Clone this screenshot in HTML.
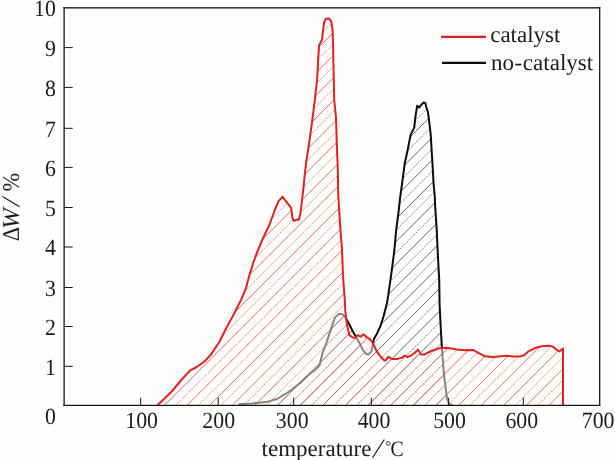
<!DOCTYPE html>
<html><head><meta charset="utf-8"><title>chart</title>
<style>
html,body{margin:0;padding:0;background:#fefefc;}
body{width:615px;height:460px;overflow:hidden;}
svg{display:block;}
text{text-rendering:geometricPrecision;}
.t{opacity:0.999;}
text{font-family:"Liberation Serif",serif;fill:#1c1c1c;}
</style></head><body>
<svg width="615" height="460" viewBox="0 0 615 460">
<defs>
<clipPath id="cb"><polygon points="238.4,404.2 251.8,403.4 266.1,402.1 276.9,399.0 285.8,393.7 293.0,388.7 300.1,382.9 309.1,374.4 316.2,369.0 319.5,365.4 322.5,352.9 326.1,343.9 329.8,332.6 334.7,317.9 338.8,313.9 342.0,313.9 345.3,317.1 348.5,322.8 352.6,331.0 355.6,336.2 359.2,342.4 363.2,350.6 366.5,354.2 368.9,354.2 371.4,351.4 373.0,344.0 373.8,339.2 377.1,333.4 380.4,326.1 383.6,316.3 386.9,303.3 388.3,295.2 391.7,270.9 394.4,250.0 396.1,230.9 398.8,210.0 400.2,197.0 402.2,182.6 404.8,163.0 407.7,149.7 410.7,134.4 414.2,127.9 415.5,116.1 417.2,105.7 419.2,107.6 421.1,105.0 423.7,102.4 425.4,103.1 426.3,107.0 428.0,112.2 429.3,122.6 430.7,134.4 431.6,149.7 432.6,165.7 433.5,182.6 434.8,197.0 435.1,205.0 436.7,229.5 437.8,253.9 439.2,279.6 439.6,304.5 440.8,328.9 441.9,347.8 444.0,374.8 447.0,398.3 448.9,403.6 452.5,405.2"/></clipPath>
<clipPath id="cr"><polygon points="157.3,405.2 164.0,399.0 171.7,391.5 182.6,378.5 190.2,370.4 196.7,367.0 204.3,361.7 210.9,354.6 219.6,341.5 226.0,328.5 232.6,316.5 235.9,310.0 241.3,299.4 245.9,288.3 249.8,273.9 253.1,263.5 256.3,254.4 262.2,240.0 269.6,224.4 274.8,210.0 278.7,200.9 282.6,196.7 284.6,199.6 291.1,207.7 292.4,217.9 293.7,220.7 299.0,219.2 300.3,213.9 301.6,203.5 303.5,187.8 304.2,180.0 306.1,162.6 309.6,140.0 312.2,120.9 314.8,100.0 317.2,78.5 318.2,58.9 319.1,45.2 322.1,39.4 323.1,29.6 324.0,22.7 326.0,18.8 328.9,18.4 331.3,21.7 332.5,29.6 333.1,45.2 333.5,68.7 334.2,100.0 336.0,117.4 336.8,143.5 337.8,170.0 338.3,196.0 339.9,222.2 342.0,249.5 343.0,276.0 344.8,300.0 345.3,311.4 346.9,324.5 349.4,335.1 352.6,337.5 355.1,337.8 357.5,335.1 360.8,336.7 363.7,334.3 366.5,337.2 369.8,339.2 373.0,343.2 376.3,350.6 380.4,356.3 384.4,360.7 386.1,360.0 388.2,356.8 390.1,357.9 392.6,359.1 396.7,359.1 401.6,357.9 404.8,355.5 407.3,357.1 411.4,355.3 414.6,353.0 417.9,349.6 419.8,352.5 421.2,354.6 424.5,354.4 431.3,351.0 439.2,348.2 447.0,347.8 456.8,349.5 464.6,350.2 473.4,350.0 478.3,352.8 484.5,356.2 493.1,357.0 501.2,356.3 506.9,355.7 512.6,356.5 519.2,356.6 524.0,355.2 528.9,351.1 535.5,347.8 542.0,346.2 548.5,345.7 552.6,346.5 556.7,349.8 559.6,351.4 561.6,349.5 563.0,348.5 563.0,405.2"/></clipPath>
</defs>
<rect width="615" height="460" fill="#fefefc"/>
<!-- black series -->
<path clip-path="url(#cb)" d="M-62.58,406.0L243.42,100.0M-39.95,406.0L266.05,100.0M-17.32,406.0L288.68,100.0M5.30,406.0L311.30,100.0M27.93,406.0L333.93,100.0M50.56,406.0L356.56,100.0M73.19,406.0L379.19,100.0M95.82,406.0L401.82,100.0M118.44,406.0L424.44,100.0M141.07,406.0L447.07,100.0M163.70,406.0L469.70,100.0M186.33,406.0L492.33,100.0M208.96,406.0L514.96,100.0M231.58,406.0L537.58,100.0M254.21,406.0L560.21,100.0M276.84,406.0L582.84,100.0M299.47,406.0L605.47,100.0M322.10,406.0L628.10,100.0M344.72,406.0L650.72,100.0M367.35,406.0L673.35,100.0M389.98,406.0L695.98,100.0M412.61,406.0L718.61,100.0M435.24,406.0L741.24,100.0M457.86,406.0L763.86,100.0" fill="none" stroke="#3a3636" stroke-width="0.75"/>
<path clip-path="url(#cb)" d="M-73.89,406.0L232.11,100.0M-51.27,406.0L254.73,100.0M-28.64,406.0L277.36,100.0M-6.01,406.0L299.99,100.0M16.62,406.0L322.62,100.0M39.25,406.0L345.25,100.0M61.87,406.0L367.87,100.0M84.50,406.0L390.50,100.0M107.13,406.0L413.13,100.0M129.76,406.0L435.76,100.0M152.39,406.0L458.39,100.0M175.01,406.0L481.01,100.0M197.64,406.0L503.64,100.0M220.27,406.0L526.27,100.0M242.90,406.0L548.90,100.0M265.53,406.0L571.53,100.0M288.15,406.0L594.15,100.0M310.78,406.0L616.78,100.0M333.41,406.0L639.41,100.0M356.04,406.0L662.04,100.0M378.67,406.0L684.67,100.0M401.29,406.0L707.29,100.0M423.92,406.0L729.92,100.0M446.55,406.0L752.55,100.0" fill="none" stroke="#5a5454" stroke-width="0.7" stroke-dasharray="2.2 1.1"/>
<polyline points="238.4,404.2 251.8,403.4 266.1,402.1 276.9,399.0 285.8,393.7 293.0,388.7 300.1,382.9 309.1,374.4 316.2,369.0 319.5,365.4 322.5,352.9 326.1,343.9 329.8,332.6 334.7,317.9 338.8,313.9 342.0,313.9 345.3,317.1 348.5,322.8 352.6,331.0 355.6,336.2 359.2,342.4 363.2,350.6 366.5,354.2 368.9,354.2 371.4,351.4 373.0,344.0 373.8,339.2 377.1,333.4 380.4,326.1 383.6,316.3 386.9,303.3 388.3,295.2 391.7,270.9 394.4,250.0 396.1,230.9 398.8,210.0 400.2,197.0 402.2,182.6 404.8,163.0 407.7,149.7 410.7,134.4 414.2,127.9 415.5,116.1 417.2,105.7 419.2,107.6 421.1,105.0 423.7,102.4 425.4,103.1 426.3,107.0 428.0,112.2 429.3,122.6 430.7,134.4 431.6,149.7 432.6,165.7 433.5,182.6 434.8,197.0 435.1,205.0 436.7,229.5 437.8,253.9 439.2,279.6 439.6,304.5 440.8,328.9 441.9,347.8 444.0,374.8 447.0,398.3 448.9,403.6 452.5,405.2" fill="none" stroke="#0c0c0c" stroke-width="2" stroke-linejoin="round"/>
<!-- red series -->
<polygon points="157.3,405.2 164.0,399.0 171.7,391.5 182.6,378.5 190.2,370.4 196.7,367.0 204.3,361.7 210.9,354.6 219.6,341.5 226.0,328.5 232.6,316.5 235.9,310.0 241.3,299.4 245.9,288.3 249.8,273.9 253.1,263.5 256.3,254.4 262.2,240.0 269.6,224.4 274.8,210.0 278.7,200.9 282.6,196.7 284.6,199.6 291.1,207.7 292.4,217.9 293.7,220.7 299.0,219.2 300.3,213.9 301.6,203.5 303.5,187.8 304.2,180.0 306.1,162.6 309.6,140.0 312.2,120.9 314.8,100.0 317.2,78.5 318.2,58.9 319.1,45.2 322.1,39.4 323.1,29.6 324.0,22.7 326.0,18.8 328.9,18.4 331.3,21.7 332.5,29.6 333.1,45.2 333.5,68.7 334.2,100.0 336.0,117.4 336.8,143.5 337.8,170.0 338.3,196.0 339.9,222.2 342.0,249.5 343.0,276.0 344.8,300.0 345.3,311.4 346.9,324.5 349.4,335.1 352.6,337.5 355.1,337.8 357.5,335.1 360.8,336.7 363.7,334.3 366.5,337.2 369.8,339.2 373.0,343.2 376.3,350.6 380.4,356.3 384.4,360.7 386.1,360.0 388.2,356.8 390.1,357.9 392.6,359.1 396.7,359.1 401.6,357.9 404.8,355.5 407.3,357.1 411.4,355.3 414.6,353.0 417.9,349.6 419.8,352.5 421.2,354.6 424.5,354.4 431.3,351.0 439.2,348.2 447.0,347.8 456.8,349.5 464.6,350.2 473.4,350.0 478.3,352.8 484.5,356.2 493.1,357.0 501.2,356.3 506.9,355.7 512.6,356.5 519.2,356.6 524.0,355.2 528.9,351.1 535.5,347.8 542.0,346.2 548.5,345.7 552.6,346.5 556.7,349.8 559.6,351.4 561.6,349.5 563.0,348.5 563.0,405.2" fill="#fefefc" fill-opacity="0.5"/>
<path clip-path="url(#cr)" d="M-243.60,406.0L147.40,15.0M-220.98,406.0L170.02,15.0M-198.35,406.0L192.65,15.0M-175.72,406.0L215.28,15.0M-153.09,406.0L237.91,15.0M-130.46,406.0L260.54,15.0M-107.84,406.0L283.16,15.0M-85.21,406.0L305.79,15.0M-62.58,406.0L328.42,15.0M-39.95,406.0L351.05,15.0M-17.32,406.0L373.68,15.0M5.30,406.0L396.30,15.0M27.93,406.0L418.93,15.0M50.56,406.0L441.56,15.0M73.19,406.0L464.19,15.0M95.82,406.0L486.82,15.0M118.44,406.0L509.44,15.0M141.07,406.0L532.07,15.0M163.70,406.0L554.70,15.0M186.33,406.0L577.33,15.0M208.96,406.0L599.96,15.0M231.58,406.0L622.58,15.0M254.21,406.0L645.21,15.0M276.84,406.0L667.84,15.0M299.47,406.0L690.47,15.0M322.10,406.0L713.10,15.0M344.72,406.0L735.72,15.0M367.35,406.0L758.35,15.0M389.98,406.0L780.98,15.0M412.61,406.0L803.61,15.0M435.24,406.0L826.24,15.0M457.86,406.0L848.86,15.0M480.49,406.0L871.49,15.0M503.12,406.0L894.12,15.0M525.75,406.0L916.75,15.0M548.38,406.0L939.38,15.0M571.00,406.0L962.00,15.0" fill="none" stroke="#e83636" stroke-width="0.75"/>
<path clip-path="url(#cr)" d="M-232.29,406.0L158.71,15.0M-209.66,406.0L181.34,15.0M-187.03,406.0L203.97,15.0M-164.41,406.0L226.59,15.0M-141.78,406.0L249.22,15.0M-119.15,406.0L271.85,15.0M-96.52,406.0L294.48,15.0M-73.89,406.0L317.11,15.0M-51.27,406.0L339.73,15.0M-28.64,406.0L362.36,15.0M-6.01,406.0L384.99,15.0M16.62,406.0L407.62,15.0M39.25,406.0L430.25,15.0M61.87,406.0L452.87,15.0M84.50,406.0L475.50,15.0M107.13,406.0L498.13,15.0M129.76,406.0L520.76,15.0M152.39,406.0L543.39,15.0M175.01,406.0L566.01,15.0M197.64,406.0L588.64,15.0M220.27,406.0L611.27,15.0M242.90,406.0L633.90,15.0M265.53,406.0L656.53,15.0M288.15,406.0L679.15,15.0M310.78,406.0L701.78,15.0M333.41,406.0L724.41,15.0M356.04,406.0L747.04,15.0M378.67,406.0L769.67,15.0M401.29,406.0L792.29,15.0M423.92,406.0L814.92,15.0M446.55,406.0L837.55,15.0M469.18,406.0L860.18,15.0M491.81,406.0L882.81,15.0M514.43,406.0L905.43,15.0M537.06,406.0L928.06,15.0M559.69,406.0L950.69,15.0" fill="none" stroke="#ee5555" stroke-width="0.7" stroke-dasharray="2.2 1.1"/>
<polyline points="157.3,405.2 164.0,399.0 171.7,391.5 182.6,378.5 190.2,370.4 196.7,367.0 204.3,361.7 210.9,354.6 219.6,341.5 226.0,328.5 232.6,316.5 235.9,310.0 241.3,299.4 245.9,288.3 249.8,273.9 253.1,263.5 256.3,254.4 262.2,240.0 269.6,224.4 274.8,210.0 278.7,200.9 282.6,196.7 284.6,199.6 291.1,207.7 292.4,217.9 293.7,220.7 299.0,219.2 300.3,213.9 301.6,203.5 303.5,187.8 304.2,180.0 306.1,162.6 309.6,140.0 312.2,120.9 314.8,100.0 317.2,78.5 318.2,58.9 319.1,45.2 322.1,39.4 323.1,29.6 324.0,22.7 326.0,18.8 328.9,18.4 331.3,21.7 332.5,29.6 333.1,45.2 333.5,68.7 334.2,100.0 336.0,117.4 336.8,143.5 337.8,170.0 338.3,196.0 339.9,222.2 342.0,249.5 343.0,276.0 344.8,300.0 345.3,311.4 346.9,324.5 349.4,335.1 352.6,337.5 355.1,337.8 357.5,335.1 360.8,336.7 363.7,334.3 366.5,337.2 369.8,339.2 373.0,343.2 376.3,350.6 380.4,356.3 384.4,360.7 386.1,360.0 388.2,356.8 390.1,357.9 392.6,359.1 396.7,359.1 401.6,357.9 404.8,355.5 407.3,357.1 411.4,355.3 414.6,353.0 417.9,349.6 419.8,352.5 421.2,354.6 424.5,354.4 431.3,351.0 439.2,348.2 447.0,347.8 456.8,349.5 464.6,350.2 473.4,350.0 478.3,352.8 484.5,356.2 493.1,357.0 501.2,356.3 506.9,355.7 512.6,356.5 519.2,356.6 524.0,355.2 528.9,351.1 535.5,347.8 542.0,346.2 548.5,345.7 552.6,346.5 556.7,349.8 559.6,351.4 561.6,349.5 563.0,348.5 563.0,405.2" fill="none" stroke="#e3221f" stroke-width="2" stroke-linejoin="round"/>
<!-- frame -->
<rect x="63.3" y="7.1" width="1.7" height="398.8" fill="#4a4a4a"/>
<rect x="63.3" y="7.1" width="537" height="1.45" fill="#262626"/>
<rect x="599.1" y="7.1" width="1.2" height="398.8" fill="#050505"/>
<rect x="63.3" y="404.8" width="537" height="1.15" fill="#050505"/>
<path d="M140.7,405.3 v-7.6 M218.2,405.3 v-7.6 M293.7,405.3 v-7.6 M371.3,405.3 v-7.6 M448.6,405.3 v-7.6 M523.3,405.3 v-7.6 M64,366.3 H72.7 M64,326.5 H72.7 M64,287.5 H72.7 M64,247.0 H72.7 M64,207.5 H72.7 M64,167.4 H72.7 M64,128.3 H72.7 M64,87.4 H72.7 M64,47.6 H72.7 " fill="none" stroke="#151515" stroke-width="1"/>
<g class="t">
<text transform="translate(141.6,427.9) scale(0.94,1)" font-size="23.2" text-anchor="middle">100</text>
<text transform="translate(218.7,427.9) scale(0.94,1)" font-size="23.2" text-anchor="middle">200</text>
<text transform="translate(292.2,427.9) scale(0.94,1)" font-size="23.2" text-anchor="middle">300</text>
<text transform="translate(374.0,427.9) scale(0.94,1)" font-size="23.2" text-anchor="middle">400</text>
<text transform="translate(449.5,427.9) scale(0.94,1)" font-size="23.2" text-anchor="middle">500</text>
<text transform="translate(521.8,427.9) scale(0.94,1)" font-size="23.2" text-anchor="middle">600</text>
<text transform="translate(598.1,427.9) scale(0.94,1)" font-size="23.2" text-anchor="middle">700</text>
<text transform="translate(55.8,424.4) scale(0.94,1)" font-size="23.2" text-anchor="end">0</text>
<text transform="translate(55.8,374.5) scale(0.94,1)" font-size="23.2" text-anchor="end">1</text>
<text transform="translate(55.8,334.7) scale(0.94,1)" font-size="23.2" text-anchor="end">2</text>
<text transform="translate(55.8,295.7) scale(0.94,1)" font-size="23.2" text-anchor="end">3</text>
<text transform="translate(55.8,255.2) scale(0.94,1)" font-size="23.2" text-anchor="end">4</text>
<text transform="translate(55.8,215.7) scale(0.94,1)" font-size="23.2" text-anchor="end">5</text>
<text transform="translate(55.8,175.6) scale(0.94,1)" font-size="23.2" text-anchor="end">6</text>
<text transform="translate(55.8,136.5) scale(0.94,1)" font-size="23.2" text-anchor="end">7</text>
<text transform="translate(55.8,95.6) scale(0.94,1)" font-size="23.2" text-anchor="end">8</text>
<text transform="translate(55.8,55.8) scale(0.94,1)" font-size="23.2" text-anchor="end">9</text>
<text transform="translate(55.8,16.0) scale(0.94,1)" font-size="23.2" text-anchor="end">10</text>
<text x="261.6" y="455.5" font-size="23">temperature</text>
<path d="M372.6,457.6 L384.3,439.5" stroke="#1c1c1c" stroke-width="1.1" fill="none"/>
<circle cx="388.3" cy="443.4" r="1.9" fill="none" stroke="#1c1c1c" stroke-width="0.8"/>
<text transform="translate(390.6,455.6) scale(0.9,1)" font-size="22">C</text>
<g transform="translate(18.9,207) rotate(-90)">
<text transform="translate(-34.3,0) scale(0.93,1)" font-size="24">Δ</text>
<text transform="translate(-22.0,0) scale(1.04,1)" font-size="24" font-style="italic">W</text>
<path d="M0.3,0.6 L10.6,-16.6" stroke="#1c1c1c" stroke-width="1.1" fill="none"/>
<text transform="translate(15.6,0) scale(0.93,1)" font-size="24">%</text>
</g>
<path d="M441,36.9 H486" stroke="#e3221f" stroke-width="2.1"/>
<path d="M442,62.9 H486" stroke="#0c0c0c" stroke-width="2.1"/>
<text x="490.2" y="41.6" font-size="23">catalyst</text>
<text x="491" y="70.4" font-size="23">no<tspan dx="0.6">-</tspan><tspan dx="0.6">catalyst</tspan></text>
</g>
</svg>
</body></html>
